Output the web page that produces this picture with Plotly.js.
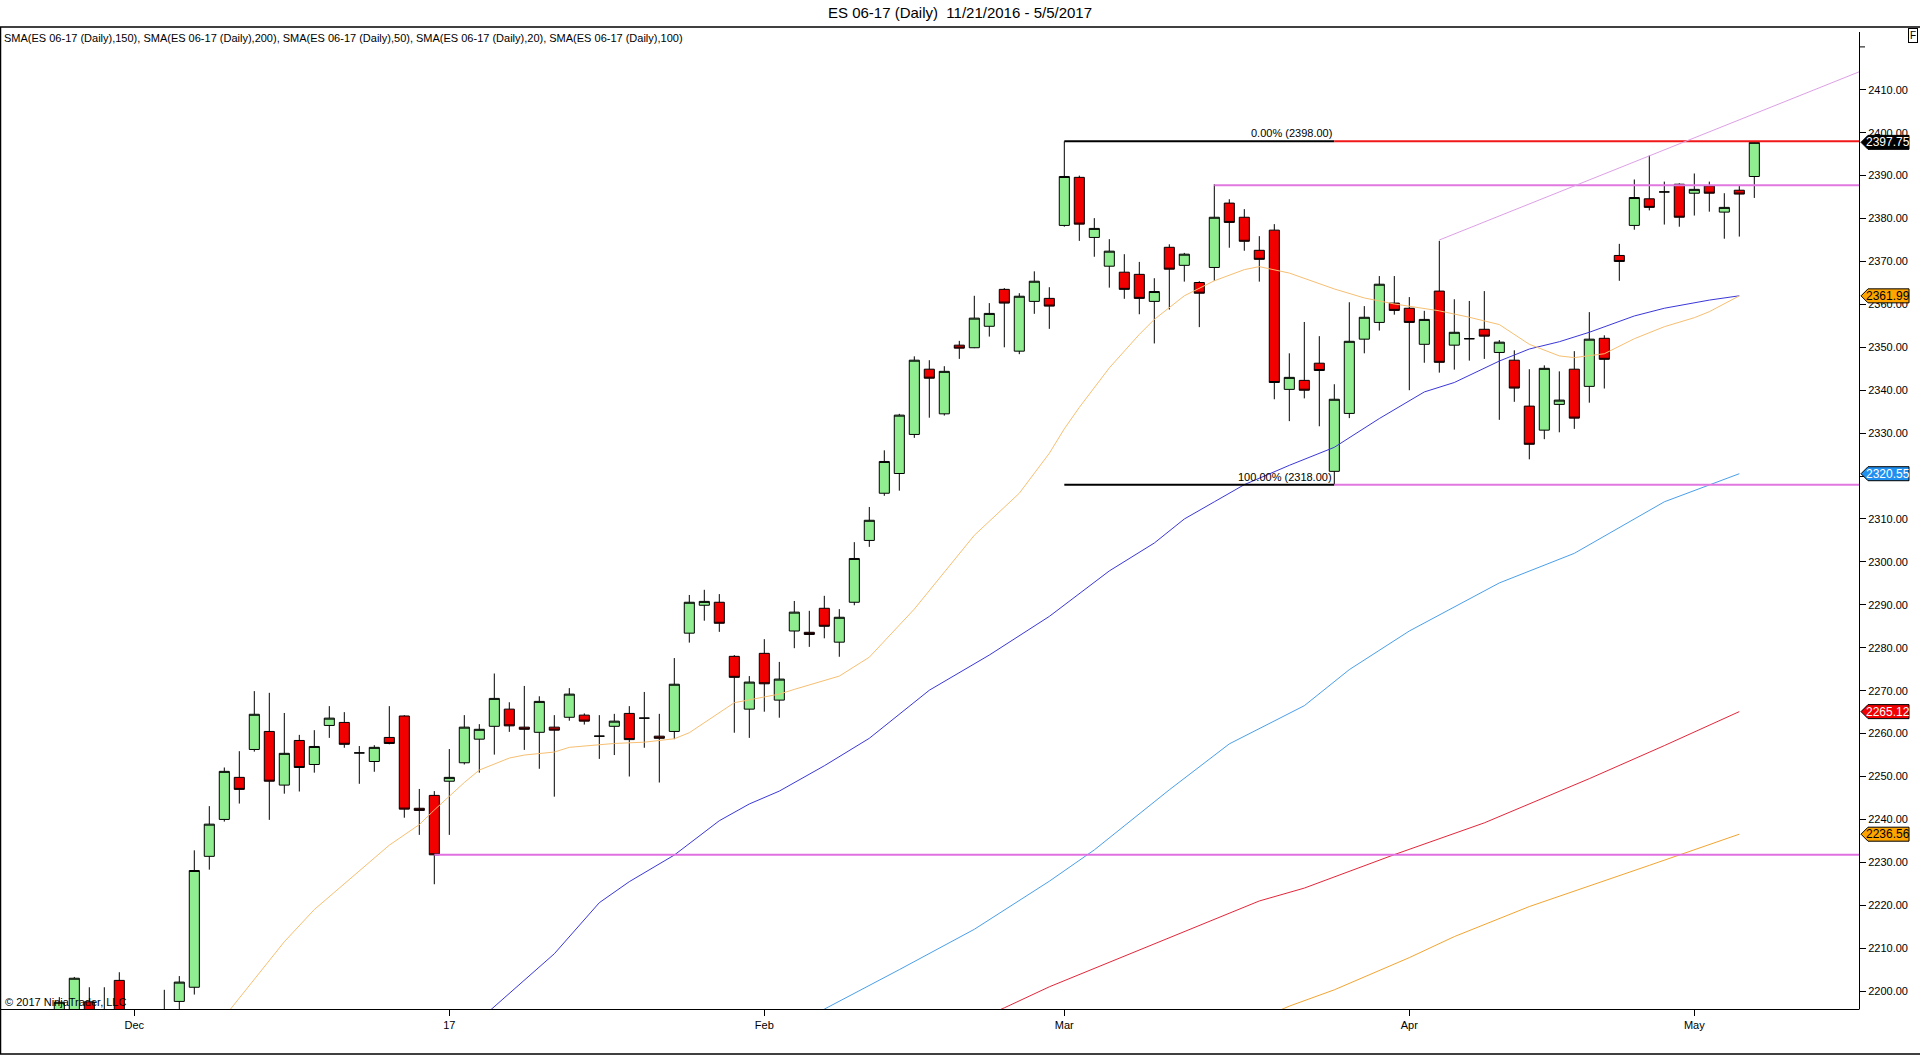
<!DOCTYPE html>
<html><head><meta charset="utf-8">
<script src="https://cdn.plot.ly/plotly-3.0.1.min.js"></script>
<style>html,body{margin:0;padding:0;background:#fff;overflow:hidden}#chart{width:1920px;height:1055px}</style>
</head><body><div id="chart"></div>
<script>
// ---------- data ----------
const dates = [
 '2016-11-24','2016-11-25','2016-11-28','2016-11-29','2016-11-30',
 '2016-12-01','2016-12-02','2016-12-05','2016-12-06','2016-12-07','2016-12-08','2016-12-09','2016-12-12','2016-12-13','2016-12-14','2016-12-15','2016-12-16','2016-12-19','2016-12-20','2016-12-21','2016-12-22','2016-12-23','2016-12-27','2016-12-28','2016-12-29','2016-12-30',
 '2017-01-03','2017-01-04','2017-01-05','2017-01-06','2017-01-09','2017-01-10','2017-01-11','2017-01-12','2017-01-13','2017-01-16','2017-01-17','2017-01-18','2017-01-19','2017-01-20','2017-01-23','2017-01-24','2017-01-25','2017-01-26','2017-01-27','2017-01-30','2017-01-31',
 '2017-02-01','2017-02-02','2017-02-03','2017-02-06','2017-02-07','2017-02-08','2017-02-09','2017-02-10','2017-02-13','2017-02-14','2017-02-15','2017-02-16','2017-02-17','2017-02-20','2017-02-21','2017-02-22','2017-02-23','2017-02-24','2017-02-27','2017-02-28',
 '2017-03-01','2017-03-02','2017-03-03','2017-03-06','2017-03-07','2017-03-08','2017-03-09','2017-03-10','2017-03-13','2017-03-14','2017-03-15','2017-03-16','2017-03-17','2017-03-20','2017-03-21','2017-03-22','2017-03-23','2017-03-24','2017-03-27','2017-03-28','2017-03-29','2017-03-30','2017-03-31',
 '2017-04-03','2017-04-04','2017-04-05','2017-04-06','2017-04-07','2017-04-10','2017-04-11','2017-04-12','2017-04-13','2017-04-17','2017-04-18','2017-04-19','2017-04-20','2017-04-21','2017-04-24','2017-04-25','2017-04-26','2017-04-27','2017-04-28',
 '2017-05-01','2017-05-02','2017-05-03','2017-05-04','2017-05-05'];

const openP = [2193,2194,2197.5,2194,2202.5,2190,2188,2189,2197.6,2200.9,2231.4,2240.0,2249.8,2256.3,2260.5,2248.0,2258.4,2252.8,2261.9,2262.6,2255.5,2253.5,2259.1,2264.1,2242.6,2245.6,
 2248.9,2253.2,2258.7,2261.7,2265.7,2261.5,2260.3,2261.5,2263.8,2264.3,2259.4,2261.7,2264.7,2263.6,2259.4,2260.5,2283.4,2289.9,2290.6,2278.0,2265.7,
 2278.7,2267.8,2283.9,2283.6,2289.2,2281.3,2290.6,2305.0,2316.0,2320.6,2329.7,2344.9,2334.5,2350.5,2349.9,2354.9,2363.5,2349.1,2360.7,2361.4,
 2378.4,2389.6,2375.6,2368.9,2367.5,2367.0,2360.7,2373.3,2369.1,2365.1,2368.6,2383.6,2380.3,2372.6,2377.3,2340.2,2342.3,2346.3,2321.1,2334.6,2351.9,2355.8,2360.3,
 2359.1,2350.7,2363.1,2350.5,2352.0,2354.2,2348.8,2347.0,2336.3,2330.7,2336.7,2344.9,2340.9,2352.1,2371.4,2378.4,2384.6,2386.2,2388.0,
 2385.9,2387.6,2381.5,2386.6,2389.8];
const highP = [2198.6,2203.3,2200.9,2200.9,2204.4,2195,2194,2200.3,2203.5,2232.8,2243.1,2252.1,2255.9,2269.9,2269.5,2264.8,2259.7,2260.8,2266.4,2265.0,2257.1,2257.3,2266.4,2264.3,2247.1,2246.6,
 2256.4,2264.3,2262.2,2274.0,2267.3,2271.1,2268.7,2264.3,2270.6,2264.7,2264.3,2264.6,2266.4,2269.7,2264.6,2277.6,2292.3,2293.5,2292.5,2278.3,2273.4,
 2282.0,2276.7,2290.9,2288.6,2292.1,2289.0,2304.6,2312.8,2326.0,2334.5,2347.9,2347.0,2345.6,2351.5,2362.0,2360.3,2363.8,2362.6,2367.7,2364.0,
 2398.0,2390.0,2380.1,2375.2,2371.7,2369.9,2366.1,2374.0,2372.0,2365.4,2388.0,2384.5,2382.2,2375.9,2378.7,2348.6,2355.9,2352.6,2341.4,2360.5,2359.6,2366.6,2366.6,
 2361.7,2358.5,2374.8,2361.2,2360.8,2363.1,2351.7,2349.3,2344.9,2345.8,2344.4,2349.1,2358.2,2352.8,2374.1,2389.1,2394.7,2388.6,2388.2,
 2390.5,2388.6,2385.9,2387.6,2398.0];
const lowP = [2190,2191,2189,2186,2189,2184,2183,2185,2194,2199.2,2228.3,2239.5,2243.7,2255.8,2239.9,2246.0,2246.5,2250.9,2259.0,2256.7,2248.3,2251.1,2257.5,2240.4,2236.4,2224.9,
 2236.4,2252.8,2250.9,2255.1,2260.4,2256.2,2251.8,2245.3,2263.0,2262.1,2254.1,2255.0,2250.0,2256.7,2248.6,2258.7,2281.2,2286.3,2283.7,2260.2,2259.0,
 2265.1,2263.7,2279.9,2280.2,2282.2,2277.9,2289.9,2303.5,2315.4,2316.6,2328.9,2333.6,2334.1,2347.3,2349.8,2352.5,2350.0,2348.4,2357.8,2354.3,
 2378.1,2374.8,2371.1,2363.9,2361.3,2357.7,2350.9,2358.8,2365.3,2354.7,2365.5,2373.2,2372.5,2365.3,2337.9,2332.8,2338.1,2331.6,2318.0,2333.5,2348.6,2353.9,2357.6,
 2340.0,2346.4,2344.1,2344.8,2346.9,2347.3,2333.1,2337.3,2323.9,2328.6,2330.2,2331.0,2337.1,2340.4,2365.5,2377.4,2381.9,2378.6,2378.1,
 2380.7,2381.6,2375.3,2375.8,2384.8];
const closeP = [2197.4,2203.0,2193,2192,2192,2188,2191,2193,2202.1,2228.1,2238.9,2251.2,2247.0,2264.5,2248.9,2255.4,2252.1,2257.0,2263.6,2257.5,2255.5,2256.8,2257.7,2242.4,2242.1,2231.75,
 2249.8,2261.5,2261.0,2268.2,2261.8,2261.0,2267.5,2260.8,2269.2,2262.9,2259.4,2262.9,2258.6,2263.6,2258.9,2271.5,2290.6,2290.8,2285.7,2273.1,2272.0,
 2271.6,2272.7,2288.3,2283.1,2285.0,2287.1,2300.8,2309.7,2323.4,2334.2,2347.0,2342.8,2344.4,2349.8,2356.8,2357.9,2360.3,2361.9,2365.4,2359.6,
 2389.8,2378.7,2377.7,2372.4,2363.5,2361.4,2363.0,2368.2,2371.7,2362.6,2380.3,2379.1,2374.7,2370.5,2341.8,2343.0,2340.0,2344.6,2337.9,2351.4,2357.0,2364.7,2358.6,
 2355.8,2356.5,2346.5,2353.5,2352.0,2352.6,2351.2,2340.5,2327.4,2345.1,2337.7,2333.5,2351.9,2347.2,2370.0,2384.9,2382.6,2386.2,2380.3,
 2386.8,2385.9,2382.6,2385.7,2397.75];

// moving averages (bar index, value)
const sma20Idx = [11,13,15,17,19,20,22,24,25,27,28,30,31,33,34,37,39,41,42,45,48,49,52,54,57,61,64,66,67,68,70,72,73,75,77,79,80,82,85,87,89,92,94,96,98,100,101,103,105,107,109,110,111,112];
const sma20Val = [2194.0,2202.8,2211.5,2219.0,2225.0,2228.2,2234.0,2238.8,2242.2,2248.6,2251.5,2254.3,2255.0,2255.7,2256.8,2257.7,2258.0,2258.8,2260.2,2267.2,2269.2,2270.3,2273.4,2277.8,2289.0,2306.2,2316.0,2325.3,2331.0,2336.0,2345.2,2353.0,2356.5,2362.0,2365.5,2368.1,2368.8,2367.3,2363.6,2361.5,2360.1,2358.5,2357.0,2355.3,2350.7,2348.0,2347.6,2348.5,2352.0,2354.8,2356.9,2358.3,2360.2,2361.99];
const sma50Idx = [28,29,33,36,38,41,44,46,48,51,54,58,62,66,70,73,75,77,79,82,85,88,90,91,93,96,98,100,102,105,107,110,112];
const sma50Val = [2193.3,2196.4,2208.7,2220.6,2225.5,2231.7,2239.7,2243.6,2246.6,2252.5,2258.9,2270.1,2278.3,2287.3,2297.9,2304.4,2310.0,2314.0,2318.0,2322.5,2326.7,2333.4,2337.5,2339.6,2341.8,2346.8,2349.6,2351.3,2353.5,2357.3,2359.1,2361.0,2362.0];
const sma100Idx = [50,51,56,61,66,69,74,78,83,86,90,96,101,107,112];
const sma100Val = [2193.6,2195.8,2205.0,2214.4,2225.6,2232.9,2246.9,2257.6,2266.5,2274.9,2283.9,2295.1,2302.0,2314.0,2320.55];
const sma150Idx = [62,63,66,71,80,83,89,95,102,107,112];
const sma150Val = [2194.6,2196.1,2201.0,2208.1,2221.0,2224.0,2231.8,2239.2,2249.5,2257.2,2265.12];
const sma200Idx = [81,82,85,90,93,98,106,112];
const sma200Val = [2195.0,2196.5,2200.3,2207.8,2212.7,2219.7,2229.3,2236.56];

// drawing objects
const fibHigh = 2398.00, fibLow = 2318.00;
const fibFrom = '2017-03-01', fibTo = '2017-03-27';
const resistLevel = 2387.75, resistFrom = '2017-03-15';
const supportLevel = 2231.75, supportFrom = '2016-12-30';
const trendA = ['2017-04-05', 2375.0], trendB = ['2017-05-05', 2404.4];

const tickDates = ['2016-12-01','2017-01-03','2017-02-01','2017-03-01','2017-04-03','2017-05-01'];
const tickLabels = ['Dec','17','Feb','Mar','Apr','May'];

const title = 'ES 06-17 (Daily)  11/21/2016 - 5/5/2017';
const legendText = 'SMA(ES 06-17 (Daily),150), SMA(ES 06-17 (Daily),200), SMA(ES 06-17 (Daily),50), SMA(ES 06-17 (Daily),20), SMA(ES 06-17 (Daily),100)';

// ---------- geometry ----------
const W = 1920, H = 1055;
const ML = 1, MR = 61, MT = 27, MB = 46;
const PW = W - ML - MR, PH = H - MT - MB;
const XMIN = -3.887, XMAX = XMIN + PW / 15;
const YMAX = 2424.63, YMIN = YMAX - PH / 4.292;
const FONT = 'Liberation Sans, Arial, sans-serif';
const idx = d => dates.indexOf(d);
const px2paperX = p => (p - ML) / PW;
const px2paperY = p => (MT + PH - p) / PH;
const val2paperY = v => (v - YMIN) / (YMAX - YMIN);

const xs = dates.map((d, i) => i);

const traces = [];
const smaLine = (ix, vals, color, name) => ({
  type: 'scatter', mode: 'lines', x: ix, y: vals, name: name,
  line: {color: color, width: 1}, hoverinfo: 'skip', showlegend: false
});
traces.push(smaLine(sma200Idx, sma200Val, '#F2A531', 'SMA200'));
traces.push(smaLine(sma150Idx, sma150Val, '#E3263A', 'SMA150'));
traces.push(smaLine(sma100Idx, sma100Val, '#4A9FEA', 'SMA100'));
traces.push(smaLine(sma50Idx, sma50Val, '#3B37D8', 'SMA50'));
traces.push(smaLine(sma20Idx, sma20Val, '#F6BF72', 'SMA20'));
traces.push({
  type: 'candlestick', x: xs, open: openP, high: highP, low: lowP, close: closeP,
  text: dates, hoverinfo: 'text+y', showlegend: false, whiskerwidth: 0,
  increasing: {line: {color: '#000000', width: 1}, fillcolor: '#90EE90'},
  decreasing: {line: {color: '#000000', width: 1}, fillcolor: '#F20000'}
});

const shapes = [];
const hline = (x0, x1, y, color, w) => shapes.push({type: 'line', xref: 'x', yref: 'y', x0: x0, x1: x1, y0: y, y1: y, line: {color: color, width: w}});
// fib retracement
hline(idx(fibFrom), idx(fibTo), fibHigh, '#000000', 2);
hline(idx(fibFrom), idx(fibTo), fibLow, '#000000', 2);
hline(idx(fibTo), XMAX, fibHigh, '#F01818', 2);
hline(idx(fibTo), XMAX, fibLow, '#E078E0', 2);
hline(idx(resistFrom), XMAX, resistLevel, '#E078E0', 2);
hline(idx(supportFrom), XMAX, supportLevel, '#E070E0', 2);
// trend line (extended to the right edge)
{
  const ia = idx(trendA[0]), ib = idx(trendB[0]);
  const slope = (trendB[1] - trendA[1]) / (ib - ia);
  shapes.push({type: 'line', xref: 'x', yref: 'y', x0: ia, y0: trendA[1], x1: XMAX, y1: trendA[1] + slope * (XMAX - ia), line: {color: '#DDA0E6', width: 1}});
}
// frame
const pline = (x0, y0, x1, y1, w) => shapes.push({type: 'line', xref: 'paper', yref: 'paper', x0: px2paperX(x0), y0: px2paperY(y0), x1: px2paperX(x1), y1: px2paperY(y1), line: {color: '#000', width: w || 1}});
pline(0, 27, 1920, 27, 1.5);
pline(0.5, 27, 0.5, 1054, 1.5);
pline(0, 1054, 1920, 1054, 1.5);
pline(0, 1009.5, 1859, 1009.5, 1);
pline(1859.5, 32, 1859.5, 1009.5, 1);
pline(1859.5, 46.9, 1865, 46.9, 1);

// price tags
const annotations = [];
const tag = (v, bg, fg) => {
  const yp = val2paperY(v);
  const dy = 7 / PH;
  shapes.push({type: 'path', xref: 'paper', yref: 'paper', fillcolor: bg, line: {color: '#000', width: 1},
    path: `M ${px2paperX(1861)},${yp} L ${px2paperX(1868)},${yp + dy} L ${px2paperX(1909)},${yp + dy} L ${px2paperX(1909)},${yp - dy} L ${px2paperX(1868)},${yp - dy} Z`});
  annotations.push({xref: 'paper', yref: 'paper', x: px2paperX(1888.5), y: yp, xanchor: 'center', yanchor: 'middle',
    text: v.toFixed(2), showarrow: false, font: {family: FONT, size: 12, color: fg}});
};
tag(sma200Val[sma200Val.length - 1], '#FFA500', '#000');
tag(sma150Val[sma150Val.length - 1], '#F00000', '#fff');
tag(sma100Val[sma100Val.length - 1], '#2090F0', '#fff');
tag(sma20Val[sma20Val.length - 1], '#FFA500', '#000');
tag(closeP[closeP.length - 1], '#000000', '#fff');

annotations.push({xref: 'x', yref: 'y', x: idx(fibTo), y: fibHigh, xanchor: 'right', yanchor: 'bottom', yshift: 0,
  text: '0.00% (' + fibHigh.toFixed(2) + ')', showarrow: false, font: {family: FONT, size: 11, color: '#000'}});
annotations.push({xref: 'x', yref: 'y', x: idx(fibTo), y: fibLow, xanchor: 'right', yanchor: 'bottom', yshift: 0,
  text: '100.00% (' + fibLow.toFixed(2) + ')', showarrow: false, font: {family: FONT, size: 11, color: '#000'}});
annotations.push({xref: 'paper', yref: 'paper', x: px2paperX(2), y: px2paperY(38), xanchor: 'left', yanchor: 'middle',
  text: legendText, showarrow: false, font: {family: FONT, size: 11, color: '#000'}});
annotations.push({xref: 'paper', yref: 'paper', x: px2paperX(3), y: px2paperY(1002), xanchor: 'left', yanchor: 'middle',
  text: '© 2017 NinjaTrader, LLC', showarrow: false, font: {family: FONT, size: 11, color: '#000'}});
annotations.push({xref: 'paper', yref: 'paper', x: px2paperX(1912.5), y: px2paperY(35), xanchor: 'center', yanchor: 'middle',
  text: 'F', showarrow: false, font: {family: FONT, size: 10, color: '#000'}, bordercolor: '#000', borderwidth: 1, borderpad: 1});

const yTicks = [];
for (let v = 2200; v <= 2410; v += 10) yTicks.push(v);

const layout = {
  width: W, height: H,
  margin: {l: ML, r: MR, t: MT, b: MB, pad: 0},
  paper_bgcolor: '#fff', plot_bgcolor: '#fff',
  showlegend: false,
  boxgap: 0.33, boxgroupgap: 0,
  title: {text: title, x: 0.5, xref: 'container', xanchor: 'center', y: 1 - 13 / H, yref: 'container', yanchor: 'middle',
    font: {family: FONT, size: 15, color: '#000'}},
  xaxis: {range: [XMIN, XMAX], showgrid: false, zeroline: false, showline: false,
    rangeslider: {visible: false}, fixedrange: true,
    tickmode: 'array', tickvals: tickDates.map(idx), ticktext: tickLabels,
    ticks: 'outside', ticklen: 6, tickcolor: '#000', tickwidth: 1,
    tickfont: {family: FONT, size: 11, color: '#000'}},
  yaxis: {range: [YMIN, YMAX], side: 'right', showgrid: false, zeroline: false, showline: false, fixedrange: true,
    tickmode: 'array', tickvals: yTicks, ticktext: yTicks.map(v => v.toFixed(2)),
    ticks: 'outside', ticklen: 6, tickcolor: '#000', tickwidth: 1,
    tickfont: {family: FONT, size: 11, color: '#000'}},
  shapes: shapes,
  annotations: annotations
};

Plotly.newPlot('chart', traces, layout, {displayModeBar: false, staticPlot: true});
</script>
</body></html>
